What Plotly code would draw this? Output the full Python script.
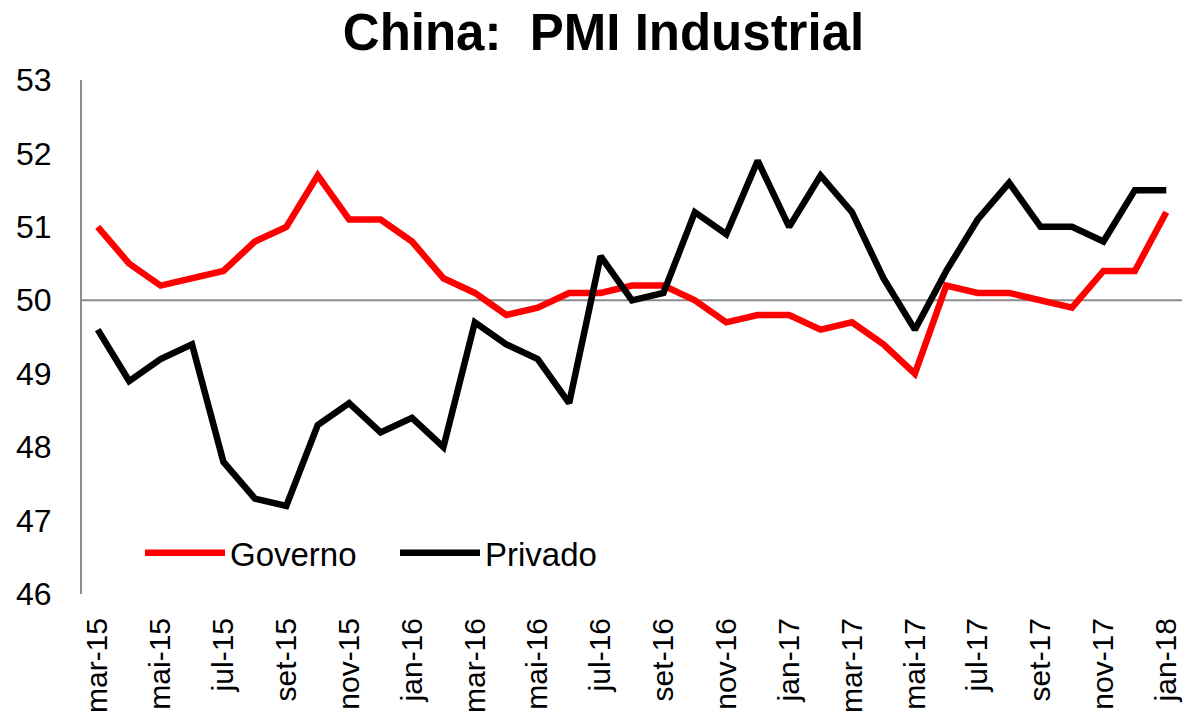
import plotly.graph_objects as go

# Meses (mar-15 a jan-18)
meses = [
    'mar-15', 'abr-15', 'mai-15', 'jun-15', 'jul-15', 'ago-15', 'set-15', 'out-15', 'nov-15', 'dez-15',
    'jan-16', 'fev-16', 'mar-16', 'abr-16', 'mai-16', 'jun-16', 'jul-16', 'ago-16', 'set-16', 'out-16',
    'nov-16', 'dez-16', 'jan-17', 'fev-17', 'mar-17', 'abr-17', 'mai-17', 'jun-17', 'jul-17', 'ago-17',
    'set-17', 'out-17', 'nov-17', 'dez-17', 'jan-18',
]

governo = [
    51.0, 50.5, 50.2, 50.3, 50.4, 50.8, 51.0, 51.7, 51.1, 51.1,
    50.8, 50.3, 50.1, 49.8, 49.9, 50.1, 50.1, 50.2, 50.2, 50.0,
    49.7, 49.8, 49.8, 49.6, 49.7, 49.4, 49.0, 50.2, 50.1, 50.1,
    50.0, 49.9, 50.4, 50.4, 51.2,
]

privado = [
    49.6, 48.9, 49.2, 49.4, 47.8, 47.3, 47.2, 48.3, 48.6, 48.2,
    48.4, 48.0, 49.7, 49.4, 49.2, 48.6, 50.6, 50.0, 50.1, 51.2,
    50.9, 51.9, 51.0, 51.7, 51.2, 50.3, 49.6, 50.4, 51.1, 51.6,
    51.0, 51.0, 50.8, 51.5, 51.5,
]

ticks_x = meses[::2]

fig = go.Figure()

fig.add_trace(go.Scatter(
    x=meses, y=governo, name='Governo', mode='lines',
    line=dict(color='#ff0000', width=6.5),
))
fig.add_trace(go.Scatter(
    x=meses, y=privado, name='Privado', mode='lines',
    line=dict(color='#000000', width=6.5),
))

# linha de referência em 50
fig.add_shape(
    type='line', xref='paper', x0=0, x1=1, yref='y', y0=50, y1=50,
    line=dict(color='#8c8c8c', width=2), layer='below',
)

fig.update_layout(
    width=1188, height=723,
    paper_bgcolor='white', plot_bgcolor='white',
    font=dict(family='Liberation Sans, Arial, sans-serif', color='black', size=31),
    title=dict(
        text='<b>China:  PMI Industrial</b>',
        x=0.508, xanchor='center', y=0.956, yanchor='middle',
        font=dict(size=51, family='Liberation Sans, Arial, sans-serif'),
    ),
    margin=dict(l=82, r=6, t=80, b=129),
    showlegend=True,
    legend=dict(
        orientation='h', x=0.0527, xanchor='left', y=0.08, yanchor='middle',
        font=dict(size=33), itemwidth=80, bgcolor='rgba(0,0,0,0)',
        tracegroupgap=0, entrywidth=160,
    ),
    xaxis=dict(
        type='category', categoryorder='array', categoryarray=meses,
        range=[-0.5, len(meses) - 0.5],
        tickmode='array', tickvals=ticks_x, ticktext=ticks_x,
        tickangle=-90, tickfont=dict(size=30),
        showgrid=False, zeroline=False, showline=False,
        ticks='outside', ticklen=11, tickcolor='rgba(0,0,0,0)',
        automargin=False,
    ),
    yaxis=dict(
        range=[46, 53], dtick=1, tick0=46,
        showgrid=False, zeroline=False,
        showline=True, linecolor='#8c8c8c', linewidth=2,
        ticks='', tickfont=dict(size=32),
        ticklabelstandoff=22, automargin=False,
    ),
)

# sem margem no body, para a figura ocupar a janela inteira
fig.write_html(
    'out.html',
    config={'displayModeBar': False},
    post_script="document.body.style.margin='0';",
)
